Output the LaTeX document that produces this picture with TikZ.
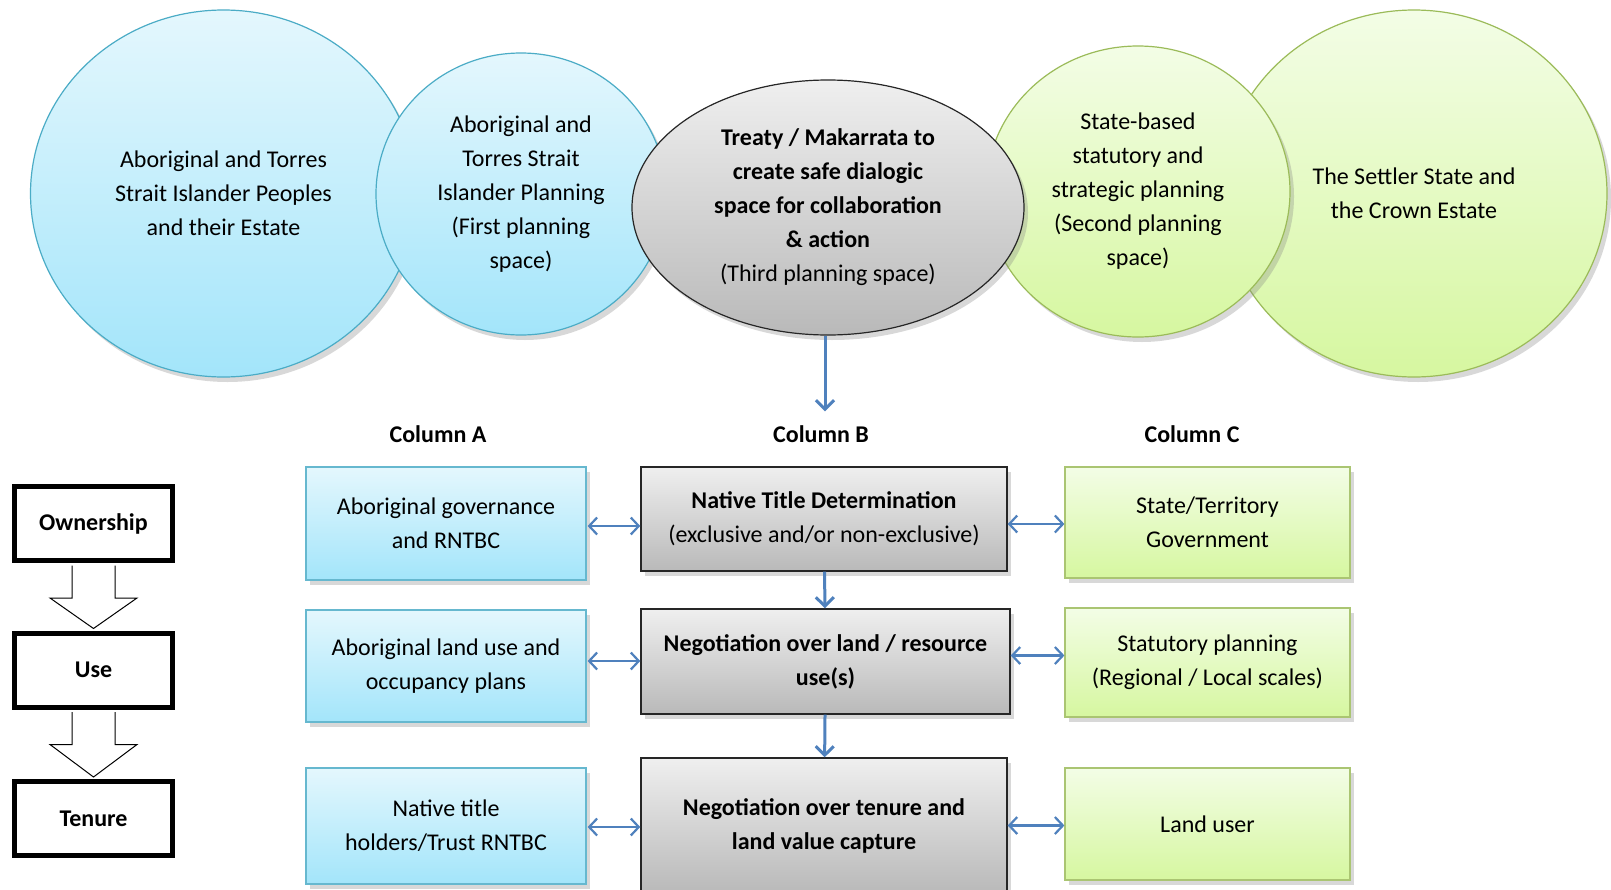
\documentclass[tikz,border=0pt]{standalone}
\usepackage{fontspec}
\setmainfont{Carlito}
\usepackage{tikz}
\usetikzlibrary{arrows.meta,positioning,shapes.geometric,shadows,calc}

\definecolor{blueline}{HTML}{4BACC6}
\definecolor{bluetop}{HTML}{E4F7FD}
\definecolor{bluebot}{HTML}{A3E5FA}
\definecolor{greenline}{HTML}{9BBB59}
\definecolor{greentop}{HTML}{F3FDE6}
\definecolor{greenbot}{HTML}{D6F7A0}
\definecolor{greytop}{HTML}{EFEFEF}
\definecolor{greybot}{HTML}{B9B9B9}
\definecolor{arrblue}{HTML}{4F81BD}

\begin{document}
\begin{tikzpicture}[x=1pt,y=-1pt,
  font=\fontsize{24}{34}\selectfont,
  every node/.style={align=center},
  soft/.style={drop shadow={shadow xshift=4pt,shadow yshift=-5pt,opacity=0.3}},
  bluering/.style={ellipse,draw=blueline,line width=1.2pt,inner sep=0pt,
                   top color=bluetop,bottom color=bluebot,soft},
  greenring/.style={ellipse,draw=greenline,line width=1.2pt,inner sep=0pt,
                    top color=greentop,bottom color=greenbot,soft},
  greyring/.style={ellipse,draw=black!85,line width=1.2pt,inner sep=0pt,
                   top color=greytop,bottom color=greybot,soft},
  bluebox/.style={draw=blueline!85,line width=1.2pt,minimum width=280pt,
                  top color=bluetop,bottom color=bluebot,soft},
  greybox/.style={draw=black!85,line width=1.4pt,minimum width=366pt,
                  top color=greytop,bottom color=greybot,soft},
  greenbox/.style={draw=greenline!85,line width=1.2pt,minimum width=285pt,
                   top color=greentop,bottom color=greenbot,soft},
  keybox/.style={draw,line width=5pt,minimum width=158pt,minimum height=74pt,
                 font=\fontsize{24}{34}\selectfont\bfseries},
  colhead/.style={inner ysep=14pt,font=\fontsize{24}{34}\selectfont\bfseries},
  arr/.style={-{Straight Barb[length=9pt,width=18pt,line width=3pt]},line width=3pt,draw=arrblue},
  darr/.style={{Straight Barb[length=8pt,width=17pt]}-{Straight Barb[length=8pt,width=17pt]},
               line width=2.2pt,draw=arrblue},
  fatarr/.style={draw,line width=1pt,line join=miter}
]
\path[use as bounding box,fill=white] (0,0) rectangle (1611,889);
% --- top row: planning spaces ---
\node[bluering,minimum width=386pt,minimum height=367pt] (e1) at (223.5,193.5)
  {Aboriginal and Torres\\Strait Islander Peoples\\and their Estate};
\node[bluering,minimum width=290pt,minimum height=282pt] (e2) at (521,194)
  {Aboriginal and\\Torres Strait\\Islander Planning\\(First planning\\space)};
\node[greenring,minimum width=386pt,minimum height=367pt] (e5) at (1414,193.5)
  {The Settler State and\\the Crown Estate};
\node[greenring,minimum width=304pt,minimum height=291pt] (e4) at (1138,191.5)
  {State-based\\statutory and\\strategic planning\\(Second planning\\space)};
\node[greyring,minimum width=392pt,minimum height=255pt] (e3) at (828,207.5)
  {\textbf{Treaty / Makarrata to}\\\textbf{create safe dialogic}\\
   \textbf{space for collaboration}\\\textbf{\& action}\\(Third planning space)};
% --- column headings ---
\node[colhead] (colA) at (438,434) {Column A};
\node[colhead] (colB) at (821,434) {Column B};
\node[colhead] (colC) at (1192,434) {Column C};
\draw[arr] ($(e3.south)+(-3,0)$) -- ($(e3.south |- colB.north)+(-3,0)$);
% --- column A ---
\node[bluebox,minimum height=113pt] (a1) at (446,523.5) {Aboriginal governance\\and RNTBC};
\node[bluebox,minimum height=112pt] (a2) at (446,666) {Aboriginal land use and\\occupancy plans};
\node[bluebox,minimum height=116pt] (a3) at (446,826) {Native title\\holders/Trust RNTBC};
% --- column B ---
\node[greybox,minimum height=104pt] (b1) at (824,519)
  {\textbf{Native Title Determination}\\(exclusive and/or non-exclusive)};
\node[greybox,minimum width=369pt,minimum height=105pt] (b2) at (825.5,661.5)
  {\textbf{Negotiation over land / resource}\\\textbf{use(s)}};
\node[greybox,minimum height=135pt] (b3) at (824,825.5)
  {\textbf{Negotiation over tenure and}\\\textbf{land value capture}};
% --- column C ---
\node[greenbox,minimum height=111pt] (c1) at (1207.5,522.5) {State/Territory\\Government};
\node[greenbox,minimum height=109pt] (c2) at (1207.5,662.5) {Statutory planning\\(Regional / Local scales)};
\node[greenbox,minimum height=112pt] (c3) at (1207.5,824) {Land user};
% --- links ---
\draw[arr] (b1) -- (b2);
\draw[arr] (b2) -- (b3);
\foreach \a/\b/\d in {a1/b1/2.5,a2/b2/-5,a3/b3/1}
  \draw[darr] ($(\a.east)+(1,\d)$) -- ($(\a.east -| \b.west)+(0,\d)$);
\foreach \a/\b/\d in {b1/c1/5,b2/c2/-6,b3/c3/0}
  \draw[darr] ($(\a.east)+(0,\d)$) -- ($(\a.east -| \b.west)+(0,\d)$);
% --- left key ---
\node[keybox] (own) at (93.5,523.5) {Ownership};
\node[keybox] (use) at (93.5,670) {Use};
\node[keybox] (ten) at (93.5,818.5) {Tenure};
\foreach \a/\b in {own/use,use/ten}
  \draw[fatarr] ($(\a.south)+(-21.5,2.5)$) -- ($(\a.south)+(-21.5,35)$) -- ++(-22,0)
    -- ($(\b.north)+(0,-2)$) -- ($(\a.south)+(43.5,35)$) -- ++(-22,0)
    -- ($(\a.south)+(21.5,2.5)$);
\end{tikzpicture}
\end{document}
